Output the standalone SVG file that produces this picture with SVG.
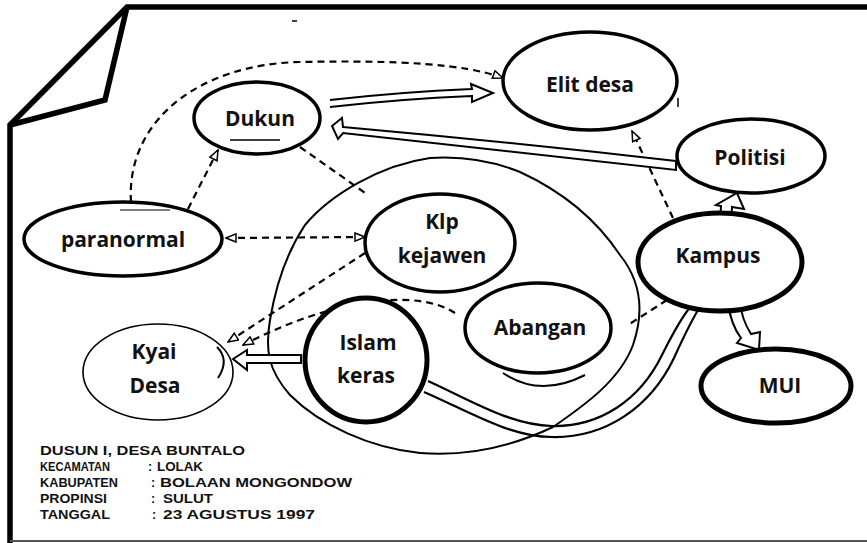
<svg xmlns="http://www.w3.org/2000/svg" width="867" height="543" viewBox="0 0 867 543">
<style>
.page{fill:none;stroke:#000;stroke-width:5.5;stroke-linejoin:miter}
.dash{fill:none;stroke:#000;stroke-width:2.2;stroke-dasharray:7 5}
.thin{fill:none;stroke:#000;stroke-width:2}
.ha{fill:#fff;stroke:#000;stroke-width:2;stroke-linejoin:miter}
.dl{fill:none;stroke:#000;stroke-width:2.2}
.n3{fill:#fff;stroke:#000;stroke-width:3.5}
.n5{fill:#fff;stroke:#000;stroke-width:5}
.n1{fill:#fff;stroke:#000;stroke-width:1.6}
.lbl{font-family:"Open Sans","Noto Sans",sans-serif;font-weight:700;font-size:21px;text-anchor:middle;fill:#111}
.hw{font-family:"Liberation Sans",Arial,sans-serif;font-size:12.5px;font-weight:700;fill:#111}
</style>
<defs>
<marker id="oa" viewBox="0 0 12 10" refX="11" refY="5" markerWidth="12" markerHeight="10" markerUnits="userSpaceOnUse" orient="auto-start-reverse">
<path d="M1,1 L11,5 L1,9 Z" fill="#fff" stroke="#000" stroke-width="1.5"/>
</marker>
</defs>
<rect width="867" height="543" fill="#fff"/>
<g id="page">
<path class="page" d="M10,543 L10,125 L127,7 L870,7"/>
<path class="page" d="M10,125 L105,100 L127,7"/>
<path d="M10,541 L867,541" stroke="#555" stroke-width="2"/>
<path d="M292,21 L297,21" stroke="#000" stroke-width="1.5"/>
<path d="M678,98 L678,107" stroke="#000" stroke-width="1.5"/>
</g>
<g id="connectors">
<path class="thin" d="M553,427 C585,405 620,380 633,345 C645,310 640,280 620,255 C600,225 570,195 520,172 C490,160 460,156 430,158 C380,165 330,195 305,225 C285,255 275,290 270,320 C265,350 268,370 290,395 C320,425 370,448 420,453 C470,457 515,445 553,427"/>
<path class="thin" d="M503,373 Q540,398 585,375"/>
<path class="dl" d="M428,381 C470,400 510,425 552,426 C600,427 640,400 662,355 C672,335 683,315 692,305"/>
<path class="dl" d="M424,392 C470,412 510,437 552,437 C605,438 650,408 674,358 C683,338 693,318 701,305"/>
<path class="dash" d="M131,202 C126,120 200,64 300,62 C400,60 465,64 503,78" marker-end="url(#oa)"/>
<path class="dash" d="M188,209 L218,150" marker-end="url(#oa)"/>
<path class="dash" d="M300,147 L368,195"/>
<path class="dash" d="M226,238 L365,237" marker-start="url(#oa)" marker-end="url(#oa)"/>
<path class="dash" d="M365,253 L228,342" marker-end="url(#oa)"/>
<path class="dash" d="M455,313 C420,290 340,295 243,345" marker-end="url(#oa)"/>
<path class="dash" d="M667,300 L628,325"/>
<path class="dash" d="M673,218 L632,131" marker-end="url(#oa)"/>
<path class="ha" d="M330,100 Q400,92 472,89 L471,84 L493,93 L472,102 L472,96 Q400,99 330,107"/>
<path class="ha" d="M676,161 Q510,142 343,127 L342,118 L332,126 L338,139 L343,133 Q510,152 676,170 Z"/>
<path class="ha" d="M720,225 L721,206 L716,205 L737,193 L744,209 L732,207 L731,225"/>
<path class="ha" d="M728,303 Q731,325 741,338 L737,343 L759,350 L760,332 L751,334 Q742,320 740,303"/>
<path class="ha" d="M301,355 L247,355 L247,350 L233,359 L247,370 L247,363 L301,363 Z"/>
</g>
<g id="dukun">
<ellipse class="n3" cx="257" cy="118" rx="63" ry="36"/>
<path d="M230,140 L280,140" stroke="#000" stroke-width="1.5"/>
<text class="lbl" x="260" y="126">Dukun</text>
</g>
<g id="elit-desa">
<ellipse class="n3" cx="590" cy="81" rx="87" ry="49"/>
<text class="lbl" x="590" y="92">Elit desa</text>
</g>
<g id="politisi">
<ellipse class="n3" cx="751" cy="156" rx="74" ry="37"/>
<text class="lbl" x="750" y="165">Politisi</text>
</g>
<g id="kampus">
<ellipse class="n5" cx="720" cy="262" rx="82" ry="49"/>
<text class="lbl" x="718" y="263">Kampus</text>
</g>
<g id="mui">
<ellipse class="n5" cx="776" cy="386" rx="75" ry="37"/>
<text class="lbl" x="780" y="393">MUI</text>
</g>
<g id="paranormal">
<ellipse class="n3" cx="123" cy="239" rx="99" ry="37"/>
<path d="M120,210 L170,210" stroke="#000" stroke-width="1.2"/>
<text class="lbl" x="123" y="247">paranormal</text>
</g>
<g id="klp-kejawen">
<ellipse class="n3" cx="440" cy="243" rx="75" ry="49"/>
<text class="lbl" x="442" y="229">Klp</text>
<text class="lbl" x="442" y="263">kejawen</text>
</g>
<g id="abangan">
<ellipse class="n3" cx="538" cy="328" rx="73" ry="45"/>
<text class="lbl" x="540" y="335">Abangan</text>
</g>
<g id="islam-keras">
<ellipse class="n5" cx="366" cy="360" rx="61" ry="62"/>
<text class="lbl" x="368" y="350">Islam</text>
<text class="lbl" x="366" y="383">keras</text>
</g>
<g id="kyai-desa">
<ellipse class="n1" cx="158" cy="372" rx="75" ry="48"/>
<path class="thin" d="M217,347 Q230,360 218,378" stroke-width="1.5"/>
<text class="lbl" x="154" y="359">Kyai</text>
<text class="lbl" x="155" y="393">Desa</text>
</g>
<g id="caption">
<text class="hw" x="40" y="455" textLength="205" lengthAdjust="spacingAndGlyphs">DUSUN I, DESA BUNTALO</text>
<text class="hw" x="40" y="471" textLength="70" lengthAdjust="spacingAndGlyphs">KECAMATAN</text>
<text class="hw" x="148" y="471">:</text>
<text class="hw" x="157" y="471" textLength="46" lengthAdjust="spacingAndGlyphs">LOLAK</text>
<text class="hw" x="40" y="487" textLength="78" lengthAdjust="spacingAndGlyphs">KABUPATEN</text>
<text class="hw" x="151" y="487">:</text>
<text class="hw" x="160" y="487" textLength="192" lengthAdjust="spacingAndGlyphs">BOLAAN MONGONDOW</text>
<text class="hw" x="40" y="503" textLength="67" lengthAdjust="spacingAndGlyphs">PROPINSI</text>
<text class="hw" x="151" y="503">:</text>
<text class="hw" x="163" y="503" textLength="50" lengthAdjust="spacingAndGlyphs">SULUT</text>
<text class="hw" x="40" y="519" textLength="70" lengthAdjust="spacingAndGlyphs">TANGGAL</text>
<text class="hw" x="152" y="519">:</text>
<text class="hw" x="163" y="519" textLength="152" lengthAdjust="spacingAndGlyphs">23 AGUSTUS 1997</text>
</g>
</svg>
